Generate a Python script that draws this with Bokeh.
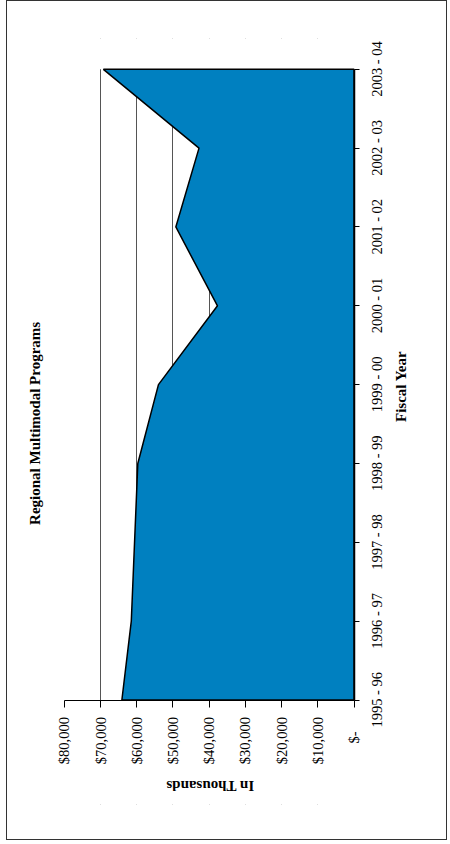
import math
from bokeh.plotting import figure
from bokeh.models import Range1d, FixedTicker, LinearAxis, BoxAnnotation
from bokeh.embed import file_html
from bokeh.resources import INLINE

# ---- data ----
fiscal_years = ["1995 - 96", "1996 - 97", "1997 - 98", "1998 - 99", "1999 - 00",
                "2000 - 01", "2001 - 02", "2002 - 03", "2003 - 04"]
funding = [64100, 61500, 60600, 59700, 54000, 37700, 49200, 42800, 69200]
value_ticks = [0, 10000, 20000, 30000, 40000, 50000, 60000, 70000, 80000]
value_tick_labels = ["$-\u00a0\u00a0\u00a0\u00a0", "$10,000", "$20,000", "$30,000", "$40,000",
                     "$50,000", "$60,000", "$70,000", "$80,000"]
grid_values = [10000, 20000, 30000, 40000, 50000, 60000, 70000]
chart_title = "Regional Multimodal  Programs"
value_title = "In Thousands"
category_title = "Fiscal Year"

# ---- layout constants (screen pixels) ----
FONT = "Liberation Serif"
V_MAX = 80000
N = len(fiscal_years) - 1
positions = list(range(len(fiscal_years)))
FRAME_L, FRAME_R, FRAME_T, FRAME_B = 51.5, 439.5, 38.5, 804.5   # drawing frame
PLOT_L, PLOT_R, PLOT_T, PLOT_B = 64.3, 354.0, 69.3, 700.0        # value/category area
VAL_PX = (PLOT_R - PLOT_L) / V_MAX
CAT_PX = (PLOT_B - PLOT_T) / N
CAT_LABEL_HALF = 27.5      # half length of a rotated category label
UNIT_LABEL_HALF = 43       # half length of "In Thousands"
TITLE_MID_Y = 421.5        # centre of the chart title along the page
FISCAL_START_Y = 422.0     # where "Fiscal Year" starts

x_range = Range1d(V_MAX + (PLOT_L - FRAME_L) / VAL_PX, -(FRAME_R - PLOT_R) / VAL_PX)
y_range = Range1d(-(FRAME_B - PLOT_B) / CAT_PX, N + (PLOT_T - FRAME_T) / CAT_PX)

p = figure(frame_width=int(FRAME_R - FRAME_L), frame_height=int(FRAME_B - FRAME_T),
           min_border_left=44, min_border_right=7, min_border_top=37, min_border_bottom=35,
           x_range=x_range, y_range=y_range,
           x_axis_location="below", y_axis_location="right",
           output_backend="svg", toolbar_location=None)

p.styles = {"border": "1.5px solid #333333", "margin-left": "6px", "margin-top": "0px"}
p.outline_line_color = None
p.background_fill_color = "white"
p.border_fill_color = "white"

# grid lines, limited to the plotted categories by white masks
p.xgrid.ticker = FixedTicker(ticks=grid_values)
p.xgrid.grid_line_color = "#555555"
p.xgrid.grid_line_width = 1
p.ygrid.visible = False
p.add_layout(BoxAnnotation(top=0, fill_color="white", fill_alpha=1.0, line_alpha=0, level="underlay"))
p.add_layout(BoxAnnotation(bottom=N, fill_color="white", fill_alpha=1.0, line_alpha=0, level="underlay"))

# area (patch from 0 to the values)
xs = [0] + funding + [0]
ys = [positions[0]] + positions + [positions[-1]]
p.patch(xs, ys, fill_color="#0080C0", line_color="black", line_width=1.5)

# value axis, drawn along the first category
xa = p.xaxis[0]
xa.fixed_location = 0
xa.bounds = (0, V_MAX)
xa.ticker = FixedTicker(ticks=value_ticks)
xa.major_label_overrides = {v: l for v, l in zip(value_ticks, value_tick_labels)}
xa.major_label_orientation = math.pi / 2
xa.major_label_text_font = FONT
xa.major_label_text_font_size = "14.5px"
xa.major_label_text_color = "black"
xa.major_label_standoff = 10
xa.major_tick_out = 7
xa.major_tick_in = 0
xa.minor_tick_out = 0
xa.minor_tick_in = 0
xa.axis_line_color = "black"
xa.major_tick_line_color = "black"

# category axis line and ticks, drawn at value 0
ya = p.yaxis[0]
ya.fixed_location = 0
ya.bounds = (0, N)
ya.ticker = FixedTicker(ticks=positions)
ya.major_label_text_color = None
ya.major_tick_out = 5
ya.major_tick_in = 0
ya.minor_tick_out = 0
ya.minor_tick_in = 0
ya.axis_line_color = "black"
ya.axis_line_width = 1.5
ya.major_tick_line_color = "black"

# "In Thousands" (upside down, centred under the value axis)
shift = UNIT_LABEL_HALF / VAL_PX
p.extra_x_ranges = {"unit": Range1d(x_range.start - shift, x_range.end - shift)}
unit_axis = LinearAxis(x_range_name="unit", fixed_location=0,
                       ticker=FixedTicker(ticks=[V_MAX / 2]),
                       major_label_overrides={V_MAX / 2: value_title},
                       major_label_orientation=math.pi,
                       major_label_text_font=FONT, major_label_text_font_size="15px",
                       major_label_text_font_style="bold", major_label_text_color="black",
                       major_label_standoff=86,
                       major_tick_out=0, major_tick_in=0, minor_tick_out=0, minor_tick_in=0,
                       axis_line_color=None, major_tick_line_color=None, minor_tick_line_color=None)
p.add_layout(unit_axis, "below")

# category labels (reading upward, centred on their ticks) and "Fiscal Year"
s = CAT_LABEL_HALF / CAT_PX
p.extra_y_ranges = {"cat_labels": Range1d(y_range.start + s, y_range.end + s)}
fy_mid = (PLOT_B - FISCAL_START_Y) / CAT_PX + s
cat_axis = LinearAxis(y_range_name="cat_labels", fixed_location=0,
                      bounds=(fy_mid - 4.6, fy_mid + 4.6),
                      ticker=FixedTicker(ticks=positions),
                      major_label_overrides={i: l for i, l in zip(positions, fiscal_years)},
                      major_label_orientation=math.pi / 2,
                      major_label_text_font=FONT, major_label_text_font_size="14.5px",
                      major_label_text_color="black", major_label_standoff=23,
                      major_tick_out=0, major_tick_in=0, minor_tick_out=0, minor_tick_in=0,
                      axis_line_color=None, major_tick_line_color=None, minor_tick_line_color=None,
                      axis_label=category_title, axis_label_orientation=math.pi / 2,
                      axis_label_text_font=FONT, axis_label_text_font_size="15px",
                      axis_label_text_font_style="bold", axis_label_text_color="black",
                      axis_label_standoff=4)
p.add_layout(cat_axis, "right")

# chart title, reading upward along the left side
t_mid = (PLOT_B - TITLE_MID_Y) / CAT_PX
title_axis = LinearAxis(bounds=(t_mid - 1, t_mid + 1), ticker=FixedTicker(ticks=[]),
                        major_label_standoff=0,
                        major_tick_out=0, major_tick_in=0, minor_tick_out=0, minor_tick_in=0,
                        axis_line_color=None, major_tick_line_color=None, minor_tick_line_color=None,
                        axis_label=chart_title,
                        axis_label_text_font=FONT, axis_label_text_font_size="15px",
                        axis_label_text_font_style="bold", axis_label_text_color="black",
                        axis_label_standoff=9)
p.add_layout(title_axis, "left")

open("out.html", "w").write(file_html(p, INLINE))
